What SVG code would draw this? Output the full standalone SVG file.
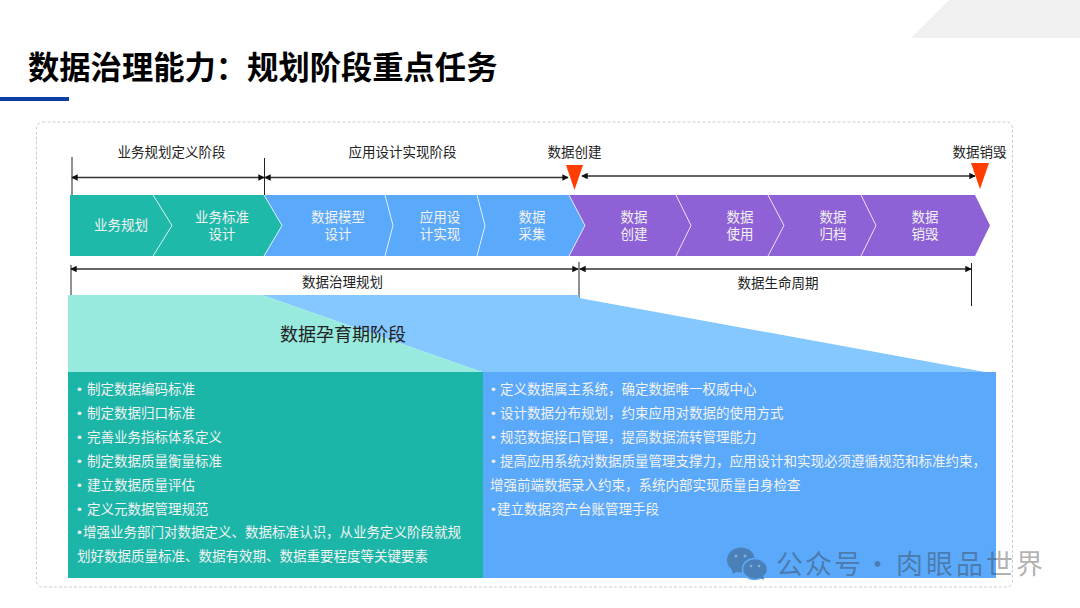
<svg xmlns="http://www.w3.org/2000/svg" width="1080" height="608" viewBox="0 0 1080 608">
<style>
text{font-family:"Noto Sans CJK SC","Noto Sans",sans-serif;font-size:13.5px;fill:#222}
.c{text-anchor:middle}
.w{fill:#f2f2f2}
.bu{font-family:"Liberation Sans",sans-serif}
.t{fill:#1fb9aa}.b{fill:#5ba9fa}.p{fill:#8f61d6}
.div{fill:none;stroke:#fff;stroke-opacity:.75;stroke-width:1}
.dim{stroke:#333;stroke-width:1.3;fill:none;marker-start:url(#a);marker-end:url(#a)}
.tick{stroke:#222;stroke-width:1;fill:none}
.red{fill:#ff3d00}
</style>
<defs>
<marker id="a" viewBox="0 0 8 8" refX="7" refY="4" markerWidth="6.5" markerHeight="6.5" markerUnits="userSpaceOnUse" orient="auto-start-reverse"><path d="M0 0L8 4L0 8Z" fill="#111"/></marker>
</defs>
<rect width="1080" height="608" fill="#fff"/>
<polygon points="949,0 1080,0 1080,38 911,38" fill="#f0f0f0"/>
<text x="28" y="79" style="font-size:31.300px;font-weight:700;fill:#000">数据治理能力：规划阶段重点任务</text>
<rect x="0" y="97" width="69" height="4" fill="#0b3fa5"/>
<rect x="36.500" y="122" width="976" height="465" rx="6" fill="none" stroke="#ccc" stroke-dasharray="3 2"/>

<g id="node-1"><polygon class="t" points="70,195 153,195 172,225.500 153,256 70,256"/><text class="c w" x="121" y="230">业务规划</text></g>
<g id="node-2"><polygon class="t" points="153,195 264,195 282,225.500 264,256 153,256 172,225.500"/><text class="c w" x="222" y="222">业务标准</text><text class="c w" x="222" y="239">设计</text></g>
<g id="node-3"><polygon class="b" points="264,195 385,195 393,225.500 385,256 264,256 282,225.500"/><text class="c w" x="338" y="222">数据模型</text><text class="c w" x="338" y="239">设计</text></g>
<g id="node-4"><polygon class="b" points="385,195 477,195 485,225.500 477,256 385,256 393,225.500"/><text class="c w" x="440" y="222">应用设</text><text class="c w" x="440" y="239">计实现</text></g>
<g id="node-5"><polygon class="b" points="477,195 569,195 585,225.500 569,256 477,256 485,225.500"/><text class="c w" x="532" y="222">数据</text><text class="c w" x="532" y="239">采集</text></g>
<g id="node-6"><polygon class="p" points="569,195 676,195 691,225.500 676,256 569,256 585,225.500"/><text class="c w" x="634" y="222">数据</text><text class="c w" x="634" y="239">创建</text></g>
<g id="node-7"><polygon class="p" points="676,195 768,195 784,225.500 768,256 676,256 691,225.500"/><text class="c w" x="740" y="222">数据</text><text class="c w" x="740" y="239">使用</text></g>
<g id="node-8"><polygon class="p" points="768,195 861,195 876,225.500 861,256 768,256 784,225.500"/><text class="c w" x="833" y="222">数据</text><text class="c w" x="833" y="239">归档</text></g>
<g id="node-9"><polygon class="p" points="861,195 975,195 990,225.500 975,256 861,256 876,225.500"/><text class="c w" x="925" y="222">数据</text><text class="c w" x="925" y="239">销毁</text></g>
<g id="dividers">
<polyline class="div" points="153,195 172,225.500 153,256"/><polyline class="div" points="264,195 282,225.500 264,256"/><polyline class="div" points="385,195 393,225.500 385,256"/><polyline class="div" points="477,195 485,225.500 477,256"/><polyline class="div" points="569,195 585,225.500 569,256"/><polyline class="div" points="676,195 691,225.500 676,256"/><polyline class="div" points="768,195 784,225.500 768,256"/><polyline class="div" points="861,195 876,225.500 861,256"/>
</g>

<g id="connectors">
<path class="tick" d="M72 157V195M264.500 158V195M71 265V295M579 262V302M971.500 263V306"/>
<path class="dim" d="M72 177.500H264"/>
<path class="dim" d="M265 177.500H568"/>
<path class="dim" d="M582 176H975"/>
<path class="dim" d="M71 269H578"/>
<path class="dim" d="M580 269H971"/>
</g>
<g id="label-1"><text class="c" x="171.500" y="157">业务规划定义阶段</text></g>
<g id="label-2"><text class="c" x="402.500" y="157">应用设计实现阶段</text></g>
<g id="marker-create"><text class="c" x="574.500" y="157">数据创建</text><polygon class="red" points="566,165 583,165 574.500,190"/></g>
<g id="marker-destroy"><text class="c" x="979.500" y="157">数据销毁</text><polygon class="red" points="971,163 989,163 980,189"/></g>
<g id="label-3"><text class="c" x="342.500" y="287">数据治理规划</text></g>
<g id="label-4"><text class="c" x="778" y="288">数据生命周期</text></g>

<g id="phase-header">
<polygon points="262,295 579,295 579,298 985,372 482,372" fill="#84c8ff"/>
<polygon points="68,295 262,295 482,372 68,372" fill="#98e9de"/>
<text class="c" x="343" y="341" style="font-size:18px">数据孕育期阶段</text>
</g>
<g id="panel-left">
<rect x="68" y="372" width="415" height="206" fill="#1cb6a9"/>
<text class="w" y="394"><tspan class="bu" x="77">•</tspan><tspan x="87">制定数据编码标准</tspan></text>
<text class="w" y="418"><tspan class="bu" x="77">•</tspan><tspan x="87">制定数据归口标准</tspan></text>
<text class="w" y="442"><tspan class="bu" x="77">•</tspan><tspan x="87">完善业务指标体系定义</tspan></text>
<text class="w" y="466"><tspan class="bu" x="77">•</tspan><tspan x="87">制定数据质量衡量标准</tspan></text>
<text class="w" y="490"><tspan class="bu" x="77">•</tspan><tspan x="87">建立数据质量评估</tspan></text>
<text class="w" y="514"><tspan class="bu" x="77">•</tspan><tspan x="87">定义元数据管理规范</tspan></text>
<text class="w" y="537"><tspan class="bu" x="77">•</tspan><tspan x="83">增强业务部门对数据定义、数据标准认识，从业务定义阶段就规</tspan></text>
<text class="w" x="77" y="561">划好数据质量标准、数据有效期、数据重要程度等关键要素</text>
</g>
<g id="panel-right">
<rect x="483" y="372" width="513" height="206" fill="#5ba9fa"/>
<text class="w" y="394"><tspan class="bu" x="491">•</tspan><tspan x="500">定义数据属主系统，确定数据唯一权威中心</tspan></text>
<text class="w" y="418"><tspan class="bu" x="491">•</tspan><tspan x="500">设计数据分布规划，约束应用对数据的使用方式</tspan></text>
<text class="w" y="442"><tspan class="bu" x="491">•</tspan><tspan x="500">规范数据接口管理，提高数据流转管理能力</tspan></text>
<text class="w" y="466"><tspan class="bu" x="491">•</tspan><tspan x="500">提高应用系统对数据质量管理支撑力，应用设计和实现必须遵循规范和标准约束，</tspan></text>
<text class="w" x="490" y="490">增强前端数据录入约束，系统内部实现质量自身检查</text>
<text class="w" y="514"><tspan class="bu" x="491">•</tspan><tspan x="497">建立数据资产台账管理手段</tspan></text>
</g>
<g id="watermark">
<g fill="#4a80b8">
<ellipse cx="741" cy="560" rx="14" ry="12.500"/><path d="M731 567L733 574L740 570Z"/>
<ellipse cx="755" cy="569" rx="12.500" ry="10.500" stroke="#5ba9fa" stroke-width="1.500"/><path d="M759 577L764 580L763 574Z"/>
<circle cx="736" cy="556" r="1.500" fill="#7fb0e0"/><circle cx="745" cy="556" r="1.500" fill="#7fb0e0"/>
<circle cx="751" cy="566" r="1.300" fill="#7fb0e0"/><circle cx="759" cy="566" r="1.300" fill="#7fb0e0"/>
</g>
<text y="574" style="font-size:27px;fill:#333;fill-opacity:.4;letter-spacing:2px"><tspan x="776">公众号</tspan><tspan x="864">·</tspan><tspan x="896" style="letter-spacing:3px">肉眼品世界</tspan></text>
</g>
</svg>
